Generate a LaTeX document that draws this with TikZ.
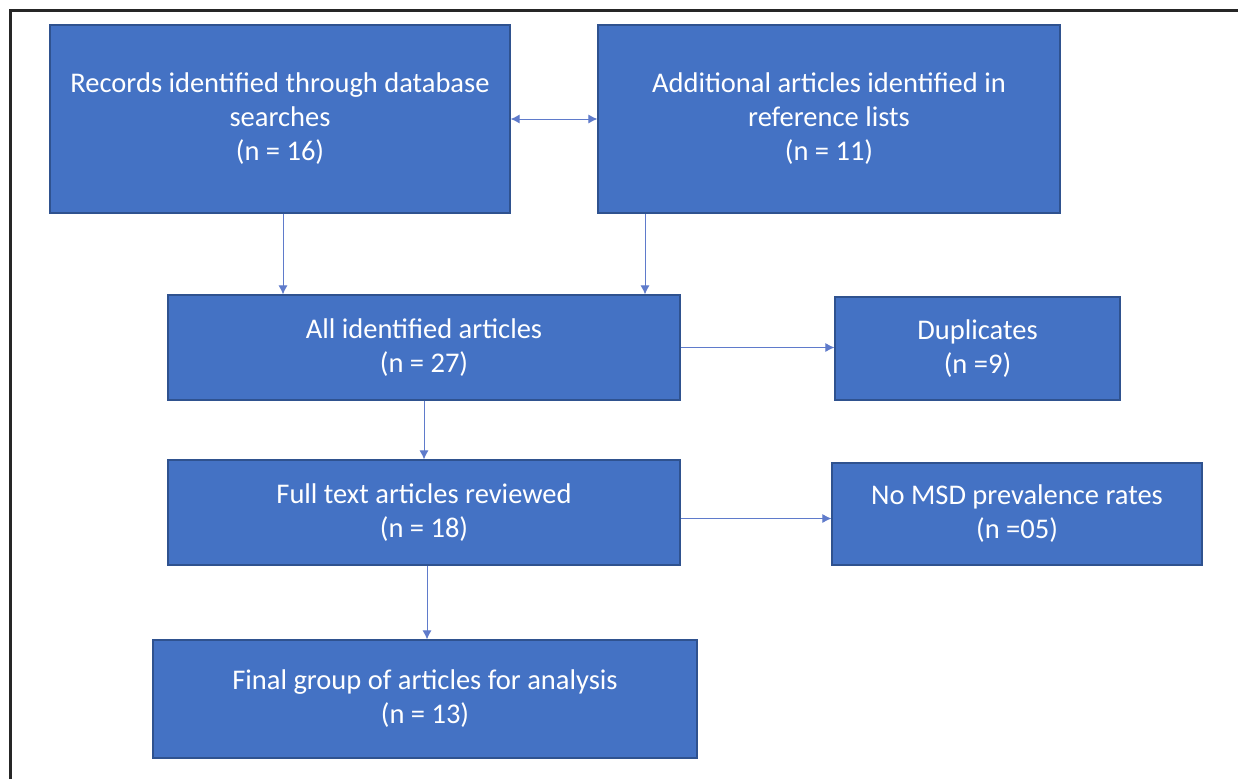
\documentclass[tikz,border=0pt]{standalone}
\usepackage{fontspec}
\setmainfont{Carlito}
\usetikzlibrary{arrows.meta}
\definecolor{boxblue}{HTML}{4472C4}
\definecolor{boxedge}{HTML}{2F528F}
\definecolor{linkblue}{HTML}{5F7BCB}
\tikzset{
  flowbox/.style={rectangle, fill=boxblue, draw=boxedge, line width=1.2pt,
    text=white, align=center, inner sep=0pt,
    font=\fontsize{28.5}{34}\selectfont},
  link/.style={draw=linkblue, line width=1pt, -{Latex[length=9pt,width=9pt]}},
  dlink/.style={draw=linkblue, line width=1pt, {Latex[length=9pt,width=9pt]}-{Latex[length=9pt,width=9pt]}}
}
\begin{document}
\begin{tikzpicture}[x=1pt,y=-1pt]
\useasboundingbox (0,0) rectangle (1238,779);
\fill[white] (0,0) rectangle (1238,779);
\draw[line width=3pt, black!85] (10,779) -- (10,10) -- (1238,10);

\node[flowbox, minimum width=460pt, minimum height=188pt] (b1) at (280,119)
  {Records identified through database\\searches\\(n = 16)};
\node[flowbox, minimum width=462pt, minimum height=188pt] (b2) at (829,119)
  {Additional articles identified in\\reference lists\\(n = 11)};
\node[flowbox, minimum width=512pt, minimum height=105pt] (b3) at (424,347.5)
  {All identified articles\\(n = 27)};
\node[flowbox, minimum width=285pt, minimum height=103pt] (b4) at (977.5,348.5)
  {Duplicates\\(n =9)};
\node[flowbox, minimum width=512pt, minimum height=105pt] (b5) at (424,512.5)
  {Full text articles reviewed\\(n = 18)};
\node[flowbox, minimum width=370pt, minimum height=102pt] (b6) at (1017,514)
  {No MSD prevalence rates\\(n =05)};
\node[flowbox, minimum width=544pt, minimum height=118pt] (b7) at (425,699)
  {Final group of articles for analysis\\(n = 13)};

\coordinate (b5out) at ([yshift=-6pt]b5.east);
\draw[dlink] (b1.east) -- (b2.west);
\draw[link] ([xshift=3pt]b1.south) -- ([xshift=3pt]b1.south |- b3.north);
\draw[link] ([xshift=-184pt]b2.south) -- ([xshift=-184pt]b2.south |- b3.north);
\draw[link] (b3.east) -- (b4.west |- b3.east);
\draw[link] (b3.south) -- (b3.south |- b5.north);
\draw[link] (b5out) -- (b6.west |- b5out);
\draw[link] ([xshift=3pt]b5.south) -- ([xshift=3pt]b5.south |- b7.north);
\end{tikzpicture}
\end{document}
